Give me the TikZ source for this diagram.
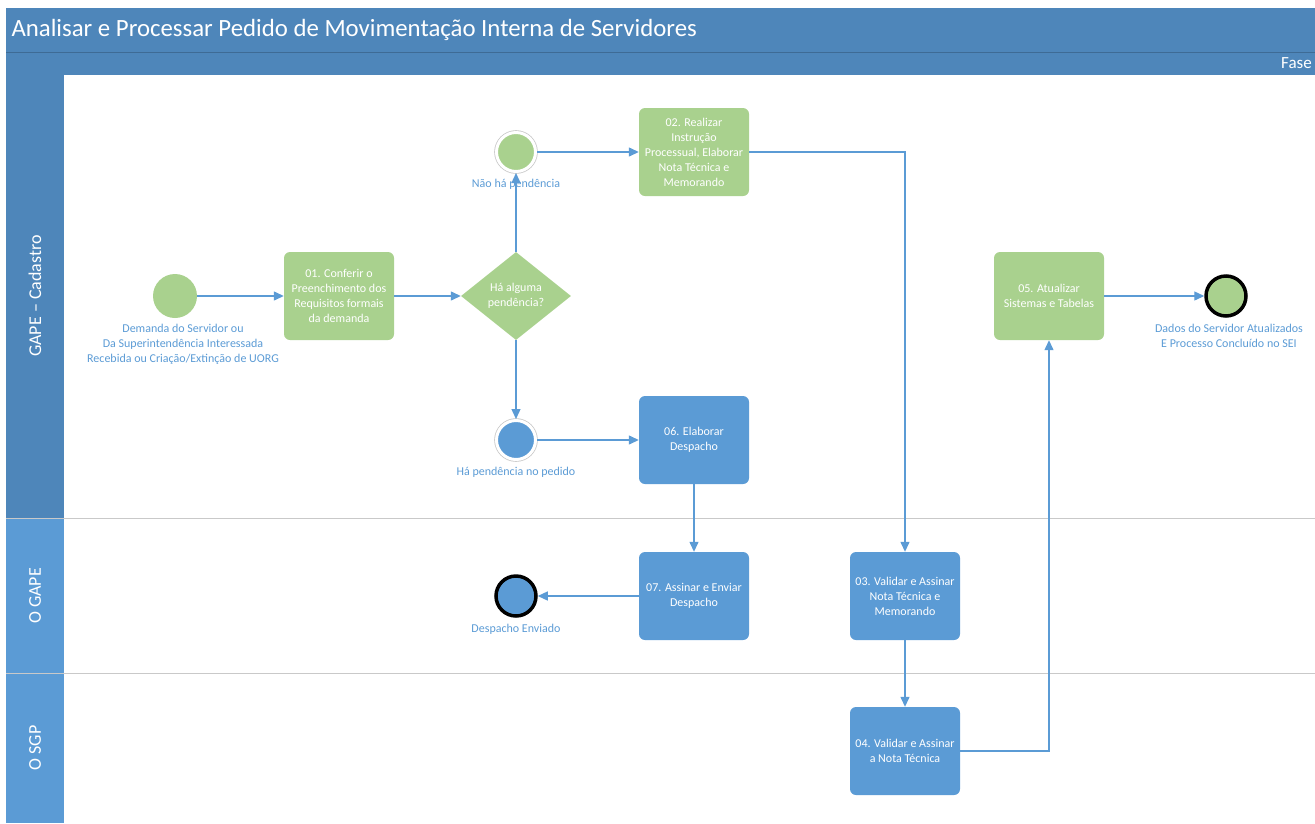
\documentclass[tikz,border=0pt]{standalone}
\usepackage{fontspec}
\setmainfont{Carlito}
\usetikzlibrary{arrows.meta,shapes.geometric}
\definecolor{hdrblue}{HTML}{4E86BA}
\definecolor{laneblue}{HTML}{5B9BD5}
\definecolor{taskgreen}{HTML}{A9D18E}
\definecolor{taskblue}{HTML}{5B9BD5}
\definecolor{flowblue}{HTML}{5B9BD5}
\definecolor{lanegray}{HTML}{C9C9C9}
\begin{document}
\begin{tikzpicture}[x=1pt,y=-1pt,
  task/.style={fill=#1,rounded corners=6pt,minimum width=110pt,minimum height=88pt,
    align=center,text=white,font=\fontsize{12}{15}\selectfont,inner sep=2pt},
  gateway/.style={diamond,fill=taskgreen,minimum width=110pt,minimum height=88pt,
    inner sep=0pt,align=center,text=white,font=\fontsize{12}{15}\selectfont},
  startev/.style={circle,fill=#1,minimum size=44pt,inner sep=0pt},
  midev/.style={circle,fill=#1,draw=white,line width=3pt,minimum size=39pt,inner sep=0pt,
    preaction={draw=lanegray,line width=4.6pt}},
  endev/.style={circle,fill=#1,draw=black,line width=3.5pt,minimum size=40pt,inner sep=0pt},
  evlabel/.style={align=center,text=flowblue,font=\fontsize{12}{15}\selectfont,inner sep=0pt},
  flow/.style={draw=flowblue,line width=1.3pt,-{Triangle[length=10pt,width=9pt]}},
  lanetext/.style={rotate=90,text=white,font=\fontsize{18}{21}\selectfont}]
  \useasboundingbox (0,0) rectangle (1315,823);
  % pool frame and lanes
  \fill[hdrblue] (6,8) rectangle (1315,75);
  \draw[hdrblue!80!black,line width=1pt] (6,52) -- (1315,52);
  \fill[hdrblue] (6,75) rectangle (64,518);
  \fill[laneblue] (6,518) rectangle (64,673);
  \fill[laneblue] (6,673) rectangle (64,823);
  \draw[lanegray] (6,518) -- (1315,518);
  \draw[lanegray] (6,673) -- (1315,673);
  \node[anchor=west,text=white,font=\fontsize{24.8}{28}\selectfont] (title) at (8,30)
    {Analisar e Processar Pedido de Movimentação Interna de Servidores};
  \node[anchor=east,text=white,font=\fontsize{17}{20}\selectfont,inner sep=1pt] (fase) at (1313,63) {Fase};
  \node[lanetext] (lcad) at (35,296) {GAPE – Cadastro};
  \node[lanetext] (lgape) at (35,596) {O GAPE};
  \node[lanetext] (lsgp) at (35,748) {O SGP};

  % events and tasks
  \node[startev=taskgreen] (start) at (175,296) {};
  \node[evlabel] (startlbl) at (183,344) {Demanda do Servidor ou\\Da Superintendência Interessada\\Recebida ou Criação/Extinção de UORG};
  \node[task=taskgreen] (t01) at (339,296) {01. Conferir o\\Preenchimento dos\\Requisitos formais\\da demanda};
  \node[gateway] (gw) at (516,296) {Há alguma\\pendência?};
  \node[midev=taskgreen] (nh) at (516,152) {};
  \node[evlabel] (nhlbl) at (516,184) {Não há pendência};
  \node[task=taskgreen] (t02) at (694,152) {02. Realizar\\Instrução\\Processual, Elaborar\\Nota Técnica e\\Memorando};
  \node[midev=taskblue] (hp) at (516,440) {};
  \node[evlabel] (hplbl) at (516,472) {Há pendência no pedido};
  \node[task=taskblue] (t06) at (694,440) {06. Elaborar\\Despacho};
  \node[task=taskblue] (t07) at (694,596) {07. Assinar e Enviar\\Despacho};
  \node[endev=taskblue] (de) at (516,596) {};
  \node[evlabel] (delbl) at (516,629) {Despacho Enviado};
  \node[task=taskblue] (t03) at (905,596) {03. Validar e Assinar\\Nota Técnica e\\Memorando};
  \node[task=taskblue] (t04) at (905,751) {04. Validar e Assinar\\a Nota Técnica};
  \node[task=taskgreen] (t05) at (1049,296) {05. Atualizar\\Sistemas e Tabelas};
  \node[endev=taskgreen] (ed) at (1226,296) {};
  \node[evlabel] (edlbl) at (1229,336) {Dados do Servidor Atualizados\\E Processo Concluído no SEI};

  % sequence flows
  \draw[flow] (start) -- (t01);
  \draw[flow] (t01) -- (gw);
  \draw[flow] (gw.north) -- (nh.south);
  \draw[flow] (gw.south) -- (hp.north);
  \draw[flow] (nh) -- (t02);
  \draw[flow] (hp) -- (t06);
  \draw[flow] (t02.east) -| (t03.north);
  \draw[flow] (t06) -- (t07);
  \draw[flow] (t07) -- (de);
  \draw[flow] (t03) -- (t04);
  \draw[flow] (t04.east) -| (t05.south);
  \draw[flow] (t05) -- (ed);
\end{tikzpicture}
\end{document}
